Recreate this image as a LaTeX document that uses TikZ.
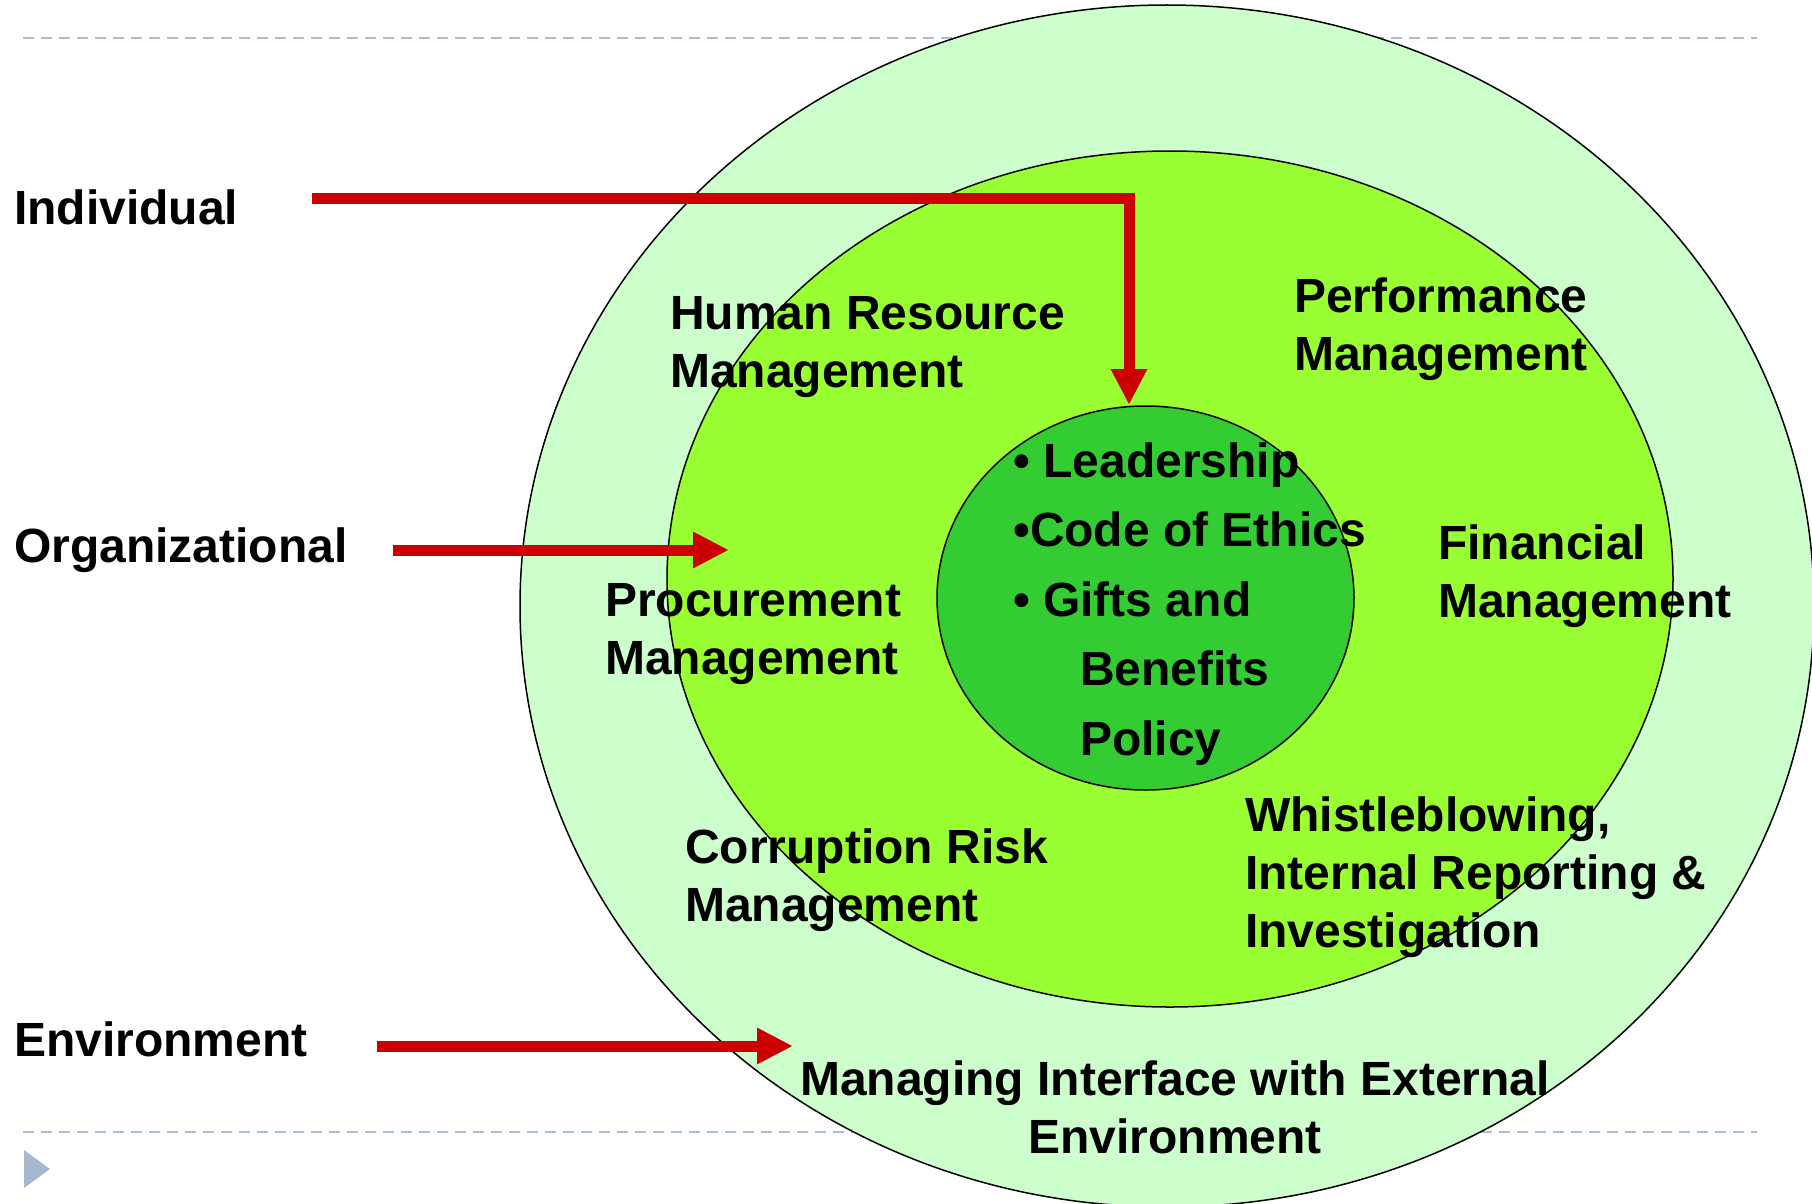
\documentclass[tikz,border=0pt]{standalone}
\usepackage{fontspec}
\setmainfont{Liberation Sans}
\usetikzlibrary{shapes.geometric,arrows.meta}
\definecolor{outerring}{HTML}{CCFFCC}
\definecolor{middlering}{HTML}{99FF33}
\definecolor{corering}{HTML}{33CC33}
\definecolor{arrowred}{HTML}{CC0000}
\definecolor{rulegray}{HTML}{A7BED8}
\definecolor{markergray}{HTML}{A5B9D3}
\begin{document}
\begin{tikzpicture}[x=1pt,y=-1pt,
  ring/.style={ellipse, draw=black, line width=1.5pt, inner sep=0pt},
  % multi-line labels are placed by the baseline of their last line
  lbl/.style={font=\fontsize{48}{58}\selectfont\bfseries, inner sep=0pt, align=left, anchor=base west},
  flow/.style={draw=arrowred, line width=11pt, -{Triangle[width=34pt,length=36pt]}},
  rule/.style={draw=rulegray, line width=2.5pt, dash pattern=on 11pt off 7pt}]
\useasboundingbox (0,0) rectangle (1812,1204);

% slide rules and bullet marker
\draw[rule] (23,38) -- (1757,38);
\draw[rule] (23,1132) -- (1757,1132);
\fill[markergray] (24,1150) -- (50,1169) -- (24,1188) -- cycle;

% nested rings
\node[ring, fill=outerring, minimum width=1294pt, minimum height=1202pt] (outer) at (1167,606) {};
\node[ring, fill=middlering, minimum width=1006pt, minimum height=856pt] (middle) at (1170,579) {};
\node[ring, fill=corering, minimum width=417pt, minimum height=384pt] (core) at (1145.5,598) {};

% level labels
\node[lbl] (individual) at (14,224) {Individual};
\node[lbl] (organizational) at (14,562) {Organizational};
\node[lbl] (environment) at (14,1056) {Environment};

% ring texts
\node[lbl] (hrm) at (670,387) {Human Resource\\Management};
\node[lbl] (perf) at (1294,370) {Performance\\Management};
\node[lbl] (proc) at (605,674) {Procurement\\Management};
\node[lbl] (fin) at (1438,617) {Financial\\Management};
\node[lbl] (crm) at (685,921) {Corruption Risk\\Management};
\node[lbl] (whistle) at (1245,947) {Whistleblowing,\\Internal Reporting \&\\Investigation};
\node[lbl, align=center, anchor=base] (external) at (1175,1153) {Managing Interface with External\\Environment};
\node[lbl, font=\fontsize{48}{69.5}\selectfont\bfseries] (corelist) at (1013,755)
  {• Leadership\\•Code of Ethics\\• Gifts and\\\hspace*{67pt}Benefits\\\hspace*{67pt}Policy};

% arrows
\coordinate (indStart) at (312,198);
\coordinate (indTip) at (1129,405);
\coordinate (orgStart) at (393,550);
\coordinate (orgTip) at (729,550);
\coordinate (envStart) at (377,1046);
\coordinate (envTip) at (793,1046);
\draw[flow] (indStart) -| (indTip);
\draw[flow] (orgStart) -- (orgTip);
\draw[flow] (envStart) -- (envTip);
\end{tikzpicture}
\end{document}
